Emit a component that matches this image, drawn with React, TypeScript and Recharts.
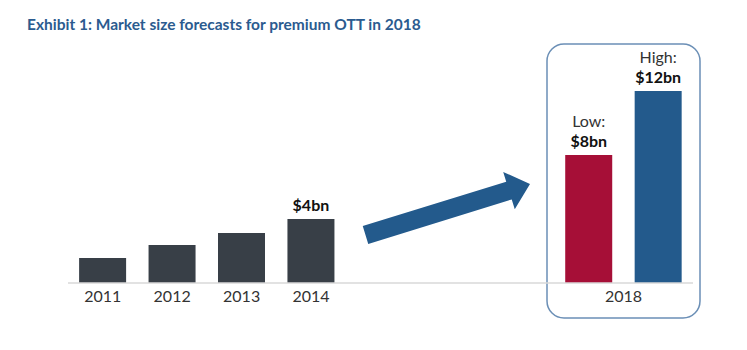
import React from 'react';
import { BarChart, Bar, XAxis, YAxis, Cell, LabelList, Customized } from 'recharts';

const categoryKeys = ['2011', '2012', '2013', '2014', 'gap1', 'gap2', 'gap3', 'low', 'high'];
const tickLabels = ['2011', '2012', '2013', '2014', '', '', '', '2018', ''];
const values = [1.56, 2.38, 3.13, 4, null, null, null, 8, 12];
const labelHeads = ['', '', '', '', '', '', '', 'Low:', 'High:'];
const labelValues = ['', '', '', '$4bn', '', '', '', '$8bn', '$12bn'];
const barColors = ['#383f47', '#383f47', '#383f47', '#383f47', '#383f47', '#383f47', '#383f47', '#a60f37', '#235a8c'];

const data = categoryKeys.map((k, i) => ({ key: k, value: values[i] }));

const FONT = 'Lato, "Open Sans", sans-serif';
const BLUE = '#235a8c';

const Tick = (props: any) => {
  const { x, y, payload } = props;
  const idx = categoryKeys.indexOf(payload?.value);
  const label = tickLabels[idx];
  if (!label) return null;
  const shift = idx === 7 ? 34.7 : 0;
  return (
    <text x={x + shift} y={y} dy={11} textAnchor="middle" fontFamily={FONT} fontSize={16} fill="#333">
      {label}
    </text>
  );
};

const BarLabel = (props: any) => {
  const { x, y, width, value } = props;
  const idx = categoryKeys.indexOf(value);
  const v = labelValues[idx];
  if (!v) return null;
  const head = labelHeads[idx];
  const cx = x + width / 2;
  return (
    <g>
      {head ? (
        <text x={cx} y={y - 28} textAnchor="middle" fontFamily={FONT} fontSize={16} fill="#333">
          {head}
        </text>
      ) : null}
      <text x={cx} y={y - 8} textAnchor="middle" fontFamily={FONT} fontSize={16} fontWeight={700} fill="#111">
        {v}
      </text>
    </g>
  );
};

const Decorations = () => {
  const T = { x: 365.5, y: 235 };
  const P = { x: 530, y: 184 };
  const dx = P.x - T.x;
  const dy = P.y - T.y;
  const len = Math.sqrt(dx * dx + dy * dy);
  const u = { x: dx / len, y: dy / len };
  const n = { x: -u.y, y: u.x };
  const sw = 9.3;
  const hw = 19.5;
  const hl = 22;
  const B = { x: P.x - u.x * hl, y: P.y - u.y * hl };
  const pts = [
    [T.x - n.x * sw, T.y - n.y * sw],
    [B.x - n.x * sw, B.y - n.y * sw],
    [B.x - n.x * hw, B.y - n.y * hw],
    [P.x, P.y],
    [B.x + n.x * hw, B.y + n.y * hw],
    [B.x + n.x * sw, B.y + n.y * sw],
    [T.x + n.x * sw, T.y + n.y * sw],
  ]
    .map((p) => p.join(','))
    .join(' ');
  return (
    <g>
      <text x={27} y={30} fontFamily={FONT} fontSize={15.5} fontWeight={700} fill="#2b5b8f">
        Exhibit 1: Market size forecasts for premium OTT in 2018
      </text>
      <polygon points={pts} fill={BLUE} />
      <rect x={547} y={44} width={153} height={274} rx={17} ry={17} fill="none" stroke="#6b8fb6" strokeWidth={1.5} />
    </g>
  );
};

export default function App() {
  return (
    <div style={{ position: 'absolute', left: 0, top: 0, width: 747, height: 350, background: '#fff' }}>
      <BarChart
        width={747}
        height={350}
        data={data}
        margin={{ top: 43, right: 54, bottom: 37, left: 68 }}
        barCategoryGap="16%"
      >
        <YAxis hide domain={[0, 15]} />
        <XAxis
          dataKey="key"
          height={30}
          axisLine={{ stroke: '#d9d9d9', strokeWidth: 1.5 }}
          tickLine={false}
          interval={0}
          tick={<Tick />}
        />
        <Bar dataKey="value" isAnimationActive={false}>
          {data.map((d, i) => (
            <Cell key={d.key} fill={barColors[i]} />
          ))}
          <LabelList dataKey="key" content={<BarLabel />} />
        </Bar>
        <Customized component={<Decorations />} />
      </BarChart>
    </div>
  );
}
